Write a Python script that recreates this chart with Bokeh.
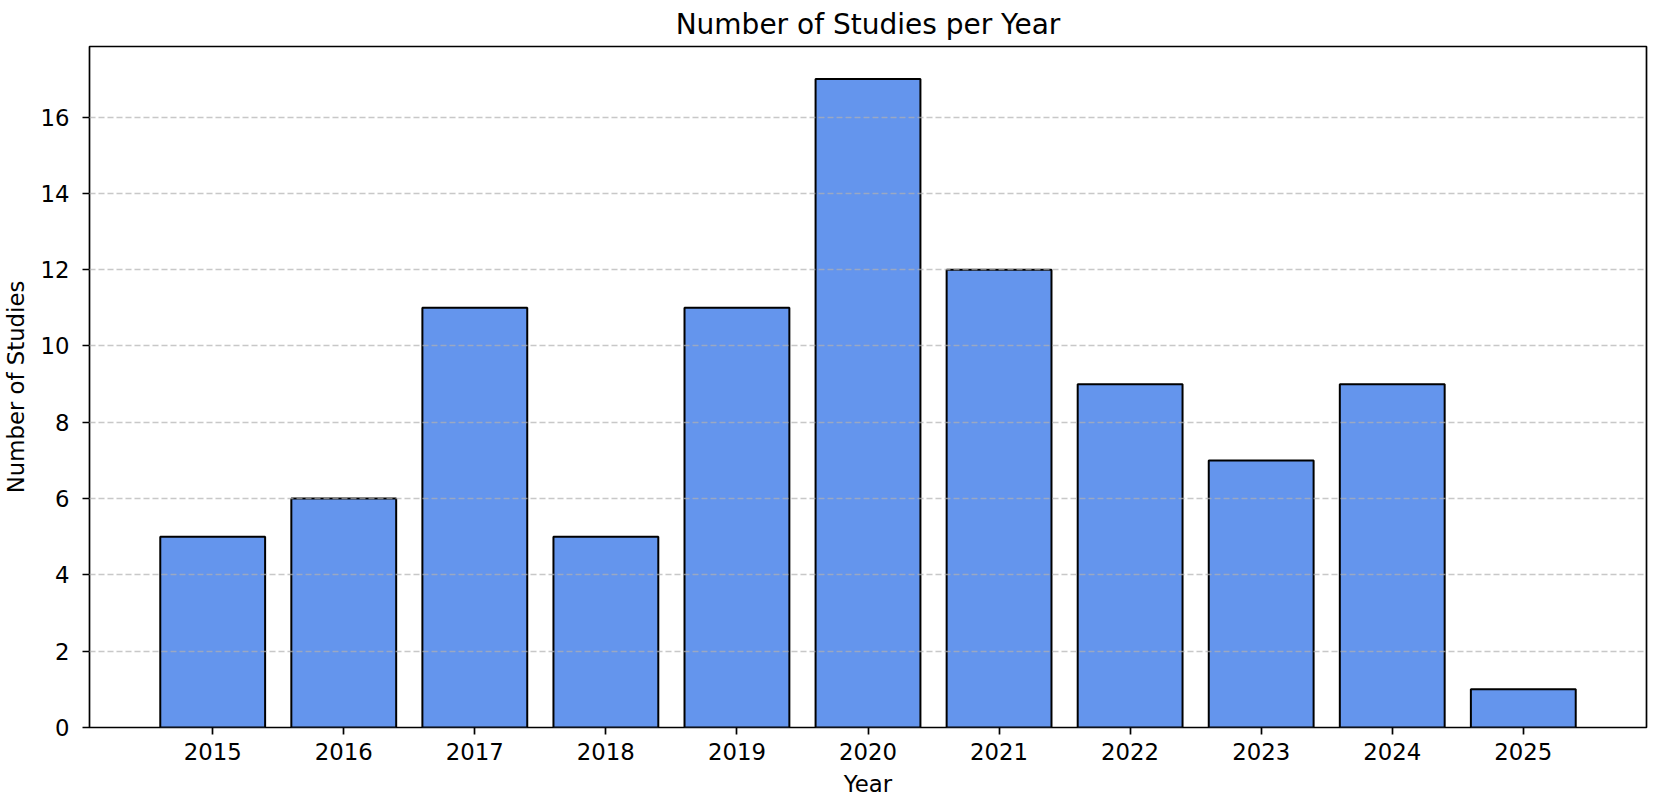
from bokeh.plotting import figure
from bokeh.models import Range1d, FixedTicker
from bokeh.embed import file_html
from bokeh.resources import INLINE

years = [2015, 2016, 2017, 2018, 2019, 2020, 2021, 2022, 2023, 2024, 2025]
counts = [5, 6, 11, 5, 11, 17, 12, 9, 7, 9, 1]
y_ticks = [0, 2, 4, 6, 8, 10, 12, 14, 16]
title_text = "Number of Studies per Year"

FONT = "DejaVu Sans"

p = figure(width=1648, height=800, output_backend="svg", toolbar_location=None,
           x_range=Range1d(2014.06, 2025.94), y_range=Range1d(0, 17.85),
           title=title_text,
           min_border_left=88, min_border_right=2, min_border_top=44, min_border_bottom=73)

p.vbar(x=years, top=counts, width=0.8, bottom=0, fill_color="#6495ED",
       line_color="black", line_width=2)

p.title.text_font = FONT
p.title.text_font_size = "28px"
p.title.text_font_style = "normal"
p.title.text_color = "black"
p.title.align = "center"
p.title.offset = 0
p.title.standoff = 11

p.outline_line_color = "black"
p.outline_line_width = 1.7
p.outline_line_alpha = 1

p.xgrid.visible = False
p.ygrid.grid_line_color = "#b0b0b0"
p.ygrid.grid_line_alpha = 0.7
p.ygrid.grid_line_dash = "6 3"
p.ygrid.grid_line_width = 1.6
p.ygrid.level = "overlay"

p.xaxis.ticker = FixedTicker(ticks=years)
p.yaxis.ticker = FixedTicker(ticks=y_ticks)
p.xaxis.minor_tick_line_color = None
p.yaxis.minor_tick_line_color = None

for ax in (p.xaxis[0], p.yaxis[0]):
    ax.axis_line_color = None
    ax.major_tick_line_color = "black"
    ax.major_tick_line_width = 1.7
    ax.major_tick_out = 7
    ax.major_tick_in = 0
    ax.major_label_text_font = FONT
    ax.major_label_text_font_size = "22.8px"
    ax.major_label_text_color = "black"
    ax.axis_label_text_font = FONT
    ax.axis_label_text_font_size = "22.8px"
    ax.axis_label_text_font_style = "normal"
    ax.axis_label_text_color = "black"

p.xaxis.axis_label = "Year"
p.yaxis.axis_label = "Number of Studies"
p.xaxis.major_label_standoff = 8
p.yaxis.major_label_standoff = 13
p.xaxis.axis_label_standoff = 8
p.yaxis.axis_label_standoff = 8

open("out.html", "w").write(file_html(p, INLINE))
